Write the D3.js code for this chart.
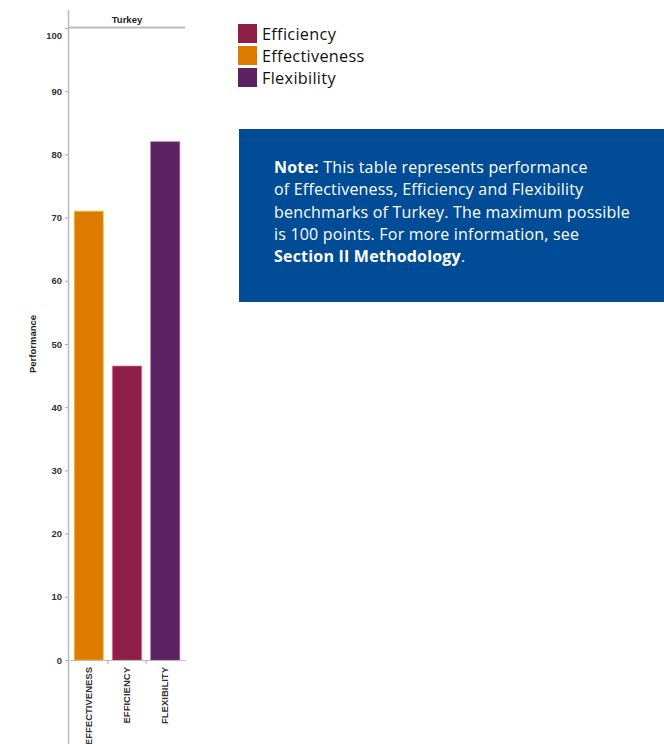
<!DOCTYPE html>
<html><head><meta charset="utf-8">
<script src="https://cdn.jsdelivr.net/npm/d3@7"></script>
<style>body{margin:0;background:#fff}</style>
</head><body><svg id="c" width="664" height="744"></svg>
<script>
const categories = ["EFFECTIVENESS","EFFICIENCY","FLEXIBILITY"];
const values = [71, 46.5, 82];
const barColors = ["#dc7b00","#8e1f47","#5c2160"];
const legendLabels = ["Efficiency","Effectiveness","Flexibility"];
const legendColors = ["#8e1f47","#dc7b00","#5c2160"];
const yTicks = [0,10,20,30,40,50,60,70,80,90,100];
const facet = "Turkey";

const svg = d3.select("#c");
const x = d3.scaleBand().domain(categories).range([69,185]).paddingInner(0.24).paddingOuter(0.14);
const y = d3.scaleLinear().domain([0,100]).range([660,28]);

// facet header
svg.append("text").attr("x",127).attr("y",23).attr("text-anchor","middle")
  .attr("font-family","Liberation Sans, Arial").attr("font-weight","bold").attr("font-size",9.5).attr("fill","#222").text(facet);
svg.append("line").attr("x1",69).attr("x2",185).attr("y1",27.5).attr("y2",27.5).attr("stroke","#bbb").attr("stroke-width",2);

// bars
svg.append("g").selectAll("rect").data(categories).join("rect")
  .attr("x",d=>x(d)).attr("width",x.bandwidth())
  .attr("y",(d,i)=>y(values[i])).attr("height",(d,i)=>y(0)-y(values[i]))
  .attr("fill",(d,i)=>barColors[i]).attr("stroke",(d,i)=>d3.color(barColors[i]).brighter(1.2)).attr("stroke-opacity",0.35).attr("stroke-width",1.5);

// y axis
const ya = svg.append("g").attr("transform","translate(69,0)").call(d3.axisLeft(y).tickValues(yTicks).tickSize(4).tickPadding(3));
ya.select(".domain").remove();
ya.selectAll("line").attr("stroke","#aaa");
ya.selectAll("text").attr("font-family","Liberation Sans, Arial").attr("font-weight","bold").attr("font-size",9.5).attr("fill","#333");
ya.selectAll(".tick").filter(d=>d===100).select("text").attr("dy","1.1em");
svg.append("line").attr("x1",68.5).attr("x2",68.5).attr("y1",10).attr("y2",744).attr("stroke","#bbb").attr("stroke-width",1.5);

// x axis
const xa = svg.append("g").attr("transform","translate(0,660)").call(d3.axisBottom(x).tickSize(0));
xa.select(".domain").attr("stroke","#bbb");
xa.selectAll("text").attr("font-family","Liberation Sans, Arial").attr("font-weight","bold").attr("font-size",9.5).attr("fill","#333")
  .attr("transform","rotate(-90)").attr("text-anchor","end").attr("x",-7).attr("y",0).attr("dy","0.35em");
// band separator ticks
const seps = categories.slice(1).map(c=>x(c)-x.step()*x.paddingInner()/2);
svg.append("g").selectAll("line").data(seps).join("line")
  .attr("x1",d=>d).attr("x2",d=>d).attr("y1",660).attr("y2",664).attr("stroke","#aaa");

// y title
svg.append("text").attr("transform","translate(36,344) rotate(-90)").attr("text-anchor","middle")
  .attr("font-family","Liberation Sans, Arial").attr("font-weight","bold").attr("font-size",9.5).attr("fill","#222").text("Performance");

// legend
const lg = svg.append("g").selectAll("g").data(legendLabels).join("g").attr("transform",(d,i)=>`translate(238,${24+i*22})`);
lg.append("rect").attr("width",19).attr("height",19).attr("fill",(d,i)=>legendColors[i]);
lg.append("text").attr("x",24).attr("y",15.5).attr("font-family","Open Sans, Liberation Sans").attr("font-size",16.3).attr("letter-spacing",0.3).attr("fill","#111").text(d=>d);

// note box
svg.append("rect").attr("x",239).attr("y",129).attr("width",425).attr("height",173).attr("fill","#004c97");
const noteLines = [
  [["Note:",true],[" This table represents performance",false]],
  [["of Effectiveness, Efficiency and Flexibility",false]],
  [["benchmarks of Turkey. The maximum possible",false]],
  [["is 100 points. For more information, see",false]],
  [["Section II Methodology",true],[".",false]]
];
const nt = svg.append("g");
noteLines.forEach((ln,i)=>{
  const t = nt.append("text").attr("x",274).attr("y",173+i*22.3).attr("font-family","Open Sans, Liberation Sans").attr("font-size",16).attr("letter-spacing",0.2).attr("fill","#fff");
  ln.forEach(([s,b])=>t.append("tspan").attr("font-weight",b?"bold":"normal").text(s));
});
</script></body></html>
